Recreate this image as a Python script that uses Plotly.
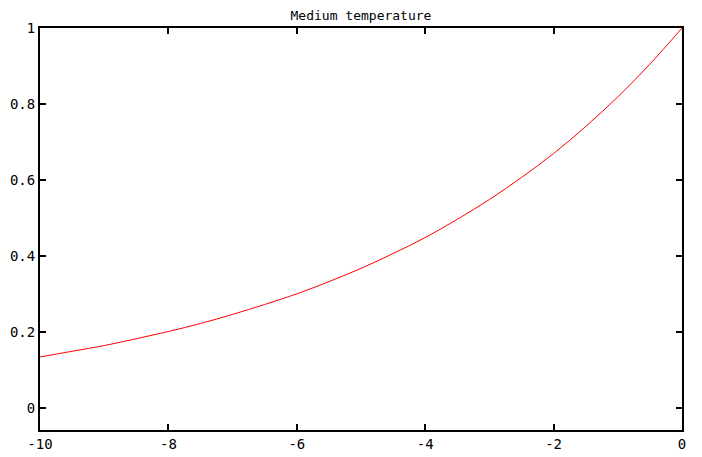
import plotly.graph_objects as go

# ── Data ──────────────────────────────────────────────────────────
x_vals = [-10, -9.5, -9, -8.5, -8, -7.5, -7, -6.5, -6, -5.5, -5,
          -4.5, -4, -3.5, -3, -2.5, -2, -1.5, -1, -0.5, 0]
temperature = [0.135, 0.150, 0.165, 0.183, 0.202, 0.223, 0.247, 0.273, 0.301, 0.333, 0.368,
               0.407, 0.449, 0.497, 0.549, 0.607, 0.670, 0.741, 0.819, 0.905, 1.0]

x_ticks = [-10, -8, -6, -4, -2, 0]
x_tick_text = ["-10", "-8", "-6", "-4", "-2", "0"]
y_ticks = [0, 0.2, 0.4, 0.6, 0.8, 1]
y_tick_text = ["0", "0.2", "0.4", "0.6", "0.8", "1"]

FONT = "DejaVu Sans Mono"

# page body has an 8px margin, so the figure is sized to fit the window
W, H = 694, 449

fig = go.Figure()
fig.add_trace(go.Scatter(
    x=x_vals, y=temperature, mode="lines",
    line=dict(color="#ff0000", width=1, shape="spline"),
    showlegend=False,
))

AXIS = dict(
    showline=True, linecolor="black", linewidth=2, mirror="ticks",
    ticks="inside", ticklen=6, tickwidth=2, tickcolor="black",
    showgrid=False, zeroline=False, automargin=False,
    tickfont=dict(family=FONT, size=14, color="black"),
)

fig.update_layout(
    width=W, height=H,
    paper_bgcolor="white", plot_bgcolor="white",
    margin=dict(l=32, r=20, t=20, b=27),
    title=dict(text="Medium temperature", x=(32 + 321) / W,
               xanchor="center", y=1, yanchor="top", pad=dict(t=3),
               font=dict(family=FONT, size=13, color="black")),
)
fig.update_xaxes(**AXIS, range=[-10, 0], tickvals=x_ticks, ticktext=x_tick_text)
fig.update_yaxes(**AXIS, range=[-0.057, 1], tickvals=y_ticks, ticktext=y_tick_text)

fig.write_html("out.html")
